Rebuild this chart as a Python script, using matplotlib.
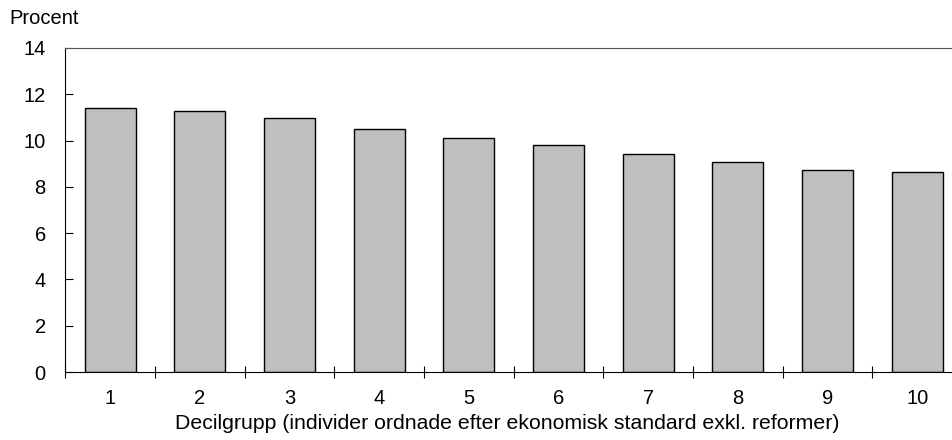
import numpy as np
import matplotlib
matplotlib.use("Agg")
import matplotlib.pyplot as plt

plt.rcParams["font.family"] = ["Liberation Sans", "DejaVu Sans"]
plt.rcParams["font.size"] = 14.5

deciles = ["1", "2", "3", "4", "5", "6", "7", "8", "9", "10"]
values = [11.4, 11.28, 10.99, 10.49, 10.13, 9.8, 9.44, 9.07, 8.73, 8.66]

fig = plt.figure(figsize=(9.53, 4.4), dpi=100)
# the plot area runs slightly past the right edge of the picture
ax = fig.add_axes([0.0685, 0.1545, 0.941, 0.7365])

x = np.arange(len(deciles))
ax.bar(x, values, width=0.57, color="#bfbfbf", edgecolor="black", linewidth=1.0)

ax.set_xlim(-0.5, len(deciles) - 0.5)
ax.set_ylim(0, 14)
ax.set_yticks(range(0, 15, 2))

# labels at bar centres, tick marks between bars
ax.set_xticks(x)
ax.set_xticklabels(deciles)
ax.tick_params(axis="x", which="major", length=0, pad=12)
ax.set_xticks(np.arange(-0.5, len(deciles) - 1, 1.0), minor=True)
ax.tick_params(axis="x", which="minor", direction="inout", length=8, width=0.8)
ax.tick_params(axis="y", direction="in", length=6, width=0.8, pad=14)

ax.spines["right"].set_visible(False)
ax.spines["top"].set_color("#555555")
for s in ["left", "bottom"]:
    ax.spines[s].set_linewidth(0.8)

ax.set_xlabel("Decilgrupp (individer ordnade efter ekonomisk standard exkl. reformer)",
              fontsize=15.3)
ax.xaxis.set_label_coords(0.493, -0.13)
fig.text(0.01, 0.958, "Procent", ha="left", va="center")

fig.savefig("out.png", dpi=100)
